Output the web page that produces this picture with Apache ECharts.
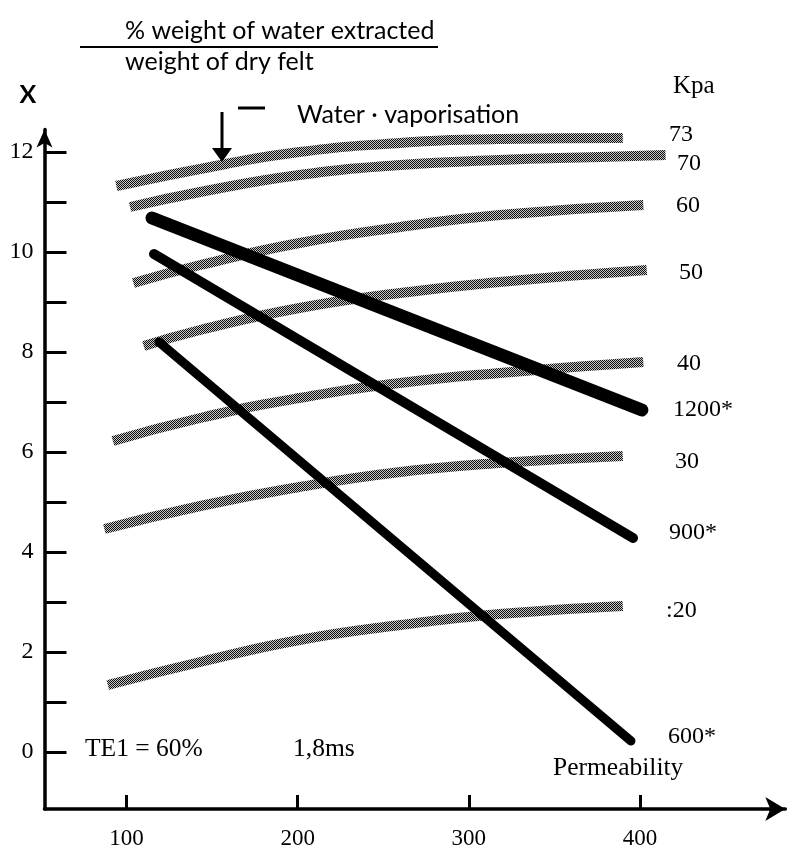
<!DOCTYPE html>
<html>
<head>
<meta charset="utf-8">
<script src="https://cdn.jsdelivr.net/npm/echarts@6/dist/echarts.min.js"></script>
<style>html,body{margin:0;padding:0;background:#fff}#c{width:793px;height:858px}</style>
</head>
<body>
<div id="c"></div>
<script>
// ---- data (x = permeability, y = X % weight of water extracted / weight of dry felt)
const xTicks = [100, 200, 300, 400];
const yTicks = [0, 1, 2, 3, 4, 5, 6, 7, 8, 9, 10, 11, 12];
const yTickLabels = [0, 2, 4, 6, 8, 10, 12];

// vacuum curves (Kpa)
const kpa73 = [[94, 11.32], [155, 11.74], [201, 12.0], [260, 12.18], [318, 12.26], [390, 12.28]];
const kpa70 = [[102, 10.9], [143, 11.2], [201, 11.54], [260, 11.74], [318, 11.84], [377, 11.9], [415, 11.94]];
const kpa60 = [[104, 9.38], [143, 9.74], [201, 10.18], [260, 10.5], [318, 10.74], [402, 10.94]];
const kpa50 = [[110, 8.12], [143, 8.44], [201, 8.88], [260, 9.18], [318, 9.4], [404, 9.64]];
const kpa40 = [[92, 6.22], [143, 6.68], [201, 7.08], [260, 7.38], [318, 7.58], [402, 7.8]];
const kpa30 = [[87, 4.46], [143, 4.92], [201, 5.3], [260, 5.6], [318, 5.78], [390, 5.92]];
const kpa20 = [[89, 1.34], [143, 1.8], [201, 2.24], [260, 2.54], [318, 2.76], [390, 2.92]];

// permeability lines (*)
const perm1200 = [[114.8, 10.68], [401.2, 6.84]];
const perm900 = [[116, 9.96], [396, 4.28]];
const perm600 = [[118.9, 8.2], [394.8, 0.22]];

const bandNames = ['73', '70', '60', '50', '40', '30', '20'];
const bandData = [kpa73, kpa70, kpa60, kpa50, kpa40, kpa30, kpa20];
const permNames = ['1200*', '900*', '600*'];
const permData = [perm1200, perm900, perm600];
const permWidths = [13, 10, 9];

// halftone pattern
const pc = document.createElement('canvas');
pc.width = 2; pc.height = 2;
const pctx = pc.getContext('2d');
pctx.fillStyle = '#0d0d0d';
pctx.fillRect(0, 0, 1, 1);
pctx.fillRect(1, 1, 1, 1);
pctx.fillStyle = 'rgba(0,0,0,0.22)';
pctx.fillRect(1, 0, 1, 1);
pctx.fillRect(0, 1, 1, 1);
const halftone = { image: pc, repeat: 'repeat' };

const serif = '"Liberation Serif", serif';
const sans = 'Lato, "DejaVu Sans", sans-serif';

const series = [];
bandData.forEach((d, i) => {
  series.push({
    name: bandNames[i] + ' Kpa', type: 'line', data: d, smooth: true,
    symbol: 'none', silent: true, z: 2,
    lineStyle: { color: halftone, width: 10, cap: 'butt' }
  });
});
permData.forEach((d, i) => {
  series.push({
    name: permNames[i], type: 'line', data: d,
    symbol: 'none', silent: true, z: 3,
    lineStyle: { color: '#000', width: permWidths[i], cap: 'round' }
  });
});

function txt(text, x, y, font, align) {
  return { type: 'text', x: x, y: y, silent: true,
    style: { text: text, font: font, fill: '#000', align: align || 'left', verticalAlign: 'middle' } };
}

const graphic = [
  txt('% weight of water extracted', 125, 31, '25px ' + sans),
  { type: 'line', shape: { x1: 80, y1: 47, x2: 438, y2: 47 }, style: { stroke: '#000', lineWidth: 2 } },
  txt('weight of dry felt', 125, 62, '25px ' + sans),
  txt('X', 28, 95, 'bold 25px ' + sans, 'center'),
  txt('Water · vaporisation', 297, 115, '25px ' + sans),
  { type: 'line', shape: { x1: 238, y1: 108, x2: 265, y2: 108 }, style: { stroke: '#000', lineWidth: 3 } },
  { type: 'line', shape: { x1: 222, y1: 112, x2: 222, y2: 150 }, style: { stroke: '#000', lineWidth: 3 } },
  { type: 'polygon', shape: { points: [[212, 148], [232, 148], [222, 162]] }, style: { fill: '#000' } },
  txt('Kpa', 673, 86, '25px ' + serif),
  txt('73', 669, 135, '24px ' + serif),
  txt('70', 677, 164, '24px ' + serif),
  txt('60', 676, 206, '24px ' + serif),
  txt('50', 679, 273, '24px ' + serif),
  txt('40', 677, 364, '24px ' + serif),
  txt('1200*', 673, 410, '24px ' + serif),
  txt('30', 675, 462, '24px ' + serif),
  txt('900*', 669, 533, '24px ' + serif),
  txt(':20', 666, 611, '24px ' + serif),
  txt('600*', 668, 737, '24px ' + serif),
  txt('Permeability', 553, 768, '25.5px ' + serif),
  txt('TE1 = 60%', 85, 749, '25.5px ' + serif),
  txt('1,8ms', 293, 749, '25.5px ' + serif)
];

const chart = echarts.init(document.getElementById('c'), null, { renderer: 'canvas' });
chart.setOption({
  backgroundColor: '#fff',
  animation: false,
  grid: { left: 44.5, right: 7.7, top: 129.5, bottom: 49, containLabel: false, outerBoundsMode: 'none' },
  xAxis: {
    type: 'value', min: 52, max: 485,
    splitLine: { show: false },
    axisLine: { show: true, onZero: false, symbol: ['none', 'arrow'], symbolSize: [18, 20],
      lineStyle: { color: '#000', width: 3.5 } },
    axisTick: { show: true, inside: true, length: 14, customValues: xTicks,
      lineStyle: { color: '#000', width: 3 } },
    axisLabel: { show: true, margin: 18, customValues: xTicks, color: '#000',
      fontFamily: serif, fontSize: 23 }
  },
  yAxis: {
    type: 'value', min: -1.14, max: 12.45,
    splitLine: { show: false },
    axisLine: { show: true, onZero: false, symbol: ['none', 'arrow'], symbolSize: [12, 18],
      lineStyle: { color: '#000', width: 3.5 } },
    axisTick: { show: true, inside: true, length: 22, customValues: yTicks,
      lineStyle: { color: '#000', width: 3 } },
    axisLabel: { show: true, margin: 11, customValues: yTickLabels, color: '#000',
      fontFamily: serif, fontSize: 24 }
  },
  series: series,
  graphic: graphic
});
</script>
</body>
</html>
